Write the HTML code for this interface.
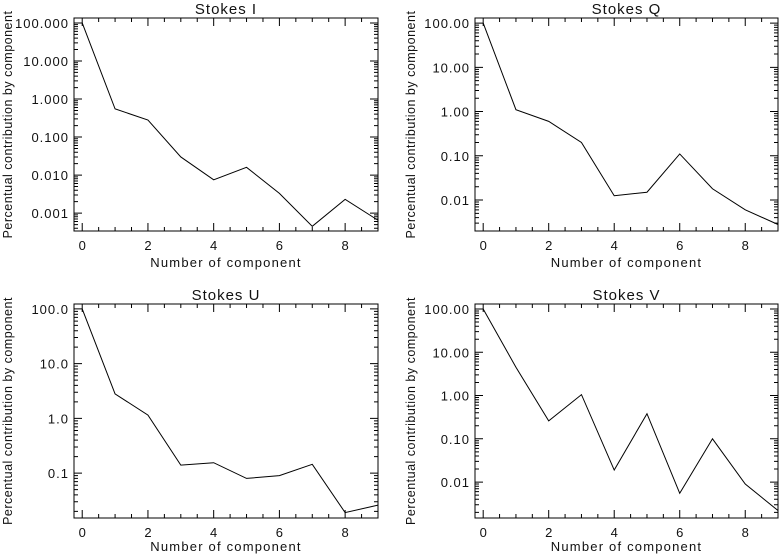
<!DOCTYPE html>
<html><head><meta charset="utf-8"><style>
body{margin:0;background:#fff}
svg text{font-family:"Liberation Sans","DejaVu Sans",sans-serif;fill:#111;font-weight:normal}
</style></head><body>
<svg id="c" width="779" height="555" xmlns="http://www.w3.org/2000/svg"></svg>
<script>
const components=[0,1,2,3,4,5,6,7,8,9];
const stokesI=[100,0.55,0.28,0.03,0.0075,0.016,0.0033,0.00045,0.0023,0.00065];
const stokesQ=[100,1.1,0.6,0.2,0.0125,0.015,0.11,0.018,0.006,0.0028];
const stokesU=[100,2.8,1.15,0.14,0.155,0.08,0.09,0.145,0.019,0.026];
const stokesV=[100,4.5,0.26,1.05,0.019,0.38,0.0055,0.1,0.009,0.0022];
const xTicks=[0,2,4,6,8];
const yTicksI=[0.001,0.01,0.1,1,10,100];
const yTicksQ=[0.01,0.1,1,10,100];
const yTicksU=[0.1,1,10,100];
const yTicksV=[0.01,0.1,1,10,100];
const NS="http://www.w3.org/2000/svg";
const svg=document.getElementById('c');
function mk(tag,attrs,parent){const e=document.createElementNS(NS,tag);for(const k in attrs)e.setAttribute(k,attrs[k]);(parent||svg).appendChild(e);return e;}
function panel(cfg){
  const g=mk('g',{});
  
  
  const {L,R,T,B,ymin,ymax,dec}=cfg;
  const xmin=-0.25,xmax=9.0;
  const sx=v=>L+(v-xmin)/(xmax-xmin)*(R-L);
  const sy=v=>B-(Math.log10(v)-ymin)/(ymax-ymin)*(B-T);
  const box=mk('rect',{x:L,y:T,width:R-L,height:B-T,fill:'none',stroke:'#000','stroke-width':1},g);
  
  
  let d='';
  for(let v=0;v<=9.001;v+=0.5){const x=sx(v);const len=(Math.abs(v%2)<1e-6)?8:4;d+=`M${x},${B}v${-len}M${x},${T}v${len}`;}
  for(let e=Math.floor(ymin);e<=Math.ceil(ymax);e++){for(let m=1;m<10;m++){const lv=e+Math.log10(m);if(lv<ymin||lv>ymax)continue;const y=sy(Math.pow(10,lv));const len=m===1?8:4;d+=`M${L},${y}h${len}M${R},${y}h${-len}`;}}
  const ticks=mk('path',{d:d,stroke:'#000','stroke-width':1,fill:'none'},g);
  
  
  xTicks.forEach(v=>{const t=mk('text',{x:sx(v),y:B+19,'text-anchor':'middle','font-size':13},g);t.textContent=v;
    
    });
  cfg.yTicks.forEach(v=>{const t=mk('text',{x:L-5,y:sy(v)+5,'text-anchor':'end','font-size':13,'letter-spacing':1},g);t.textContent=v.toFixed(dec);
    
    });
  const pts=components.map((c,i)=>sx(c)+','+sy(cfg.data[i])).join(' ');
  const line=mk('polyline',{points:pts,fill:'none',stroke:'#000','stroke-width':1},g);
  
  
  const title=mk('text',{x:(L+R)/2,y:T-4,'text-anchor':'middle','font-size':15,'letter-spacing':1},g);title.textContent=cfg.title;
  
  
  const xt=mk('text',{x:(L+R)/2,y:B+cfg.xtOff,'text-anchor':'middle','font-size':13,'letter-spacing':1.2},g);xt.textContent='Number of component';
  
  
  const yx=cfg.yTitleX,ym=(T+B)/2;
  const yt=mk('text',{x:yx,y:ym,'text-anchor':'middle','font-size':12.5,'letter-spacing':0.5,transform:`rotate(-90 ${yx} ${ym})`},g);yt.textContent='Percentual contribution by component';
  
  
}
panel({name:'panel-stokes-i',title:'Stokes I',L:74,R:378,T:18,B:231,ymin:-3.47,ymax:2.13,dec:3,yTicks:yTicksI,data:stokesI,yTitleX:12,xtOff:36});
panel({name:'panel-stokes-q',title:'Stokes Q',L:475,R:778,T:18,B:231,ymin:-2.7,ymax:2.115,dec:2,yTicks:yTicksQ,data:stokesQ,yTitleX:415,xtOff:36});
panel({name:'panel-stokes-u',title:'Stokes U',L:74,R:378,T:304,B:518,ymin:-1.82,ymax:2.09,dec:1,yTicks:yTicksU,data:stokesU,yTitleX:12,xtOff:33});
panel({name:'panel-stokes-v',title:'Stokes V',L:475,R:778,T:304,B:518,ymin:-2.83,ymax:2.115,dec:2,yTicks:yTicksV,data:stokesV,yTitleX:415,xtOff:33});
</script>
</body></html>
